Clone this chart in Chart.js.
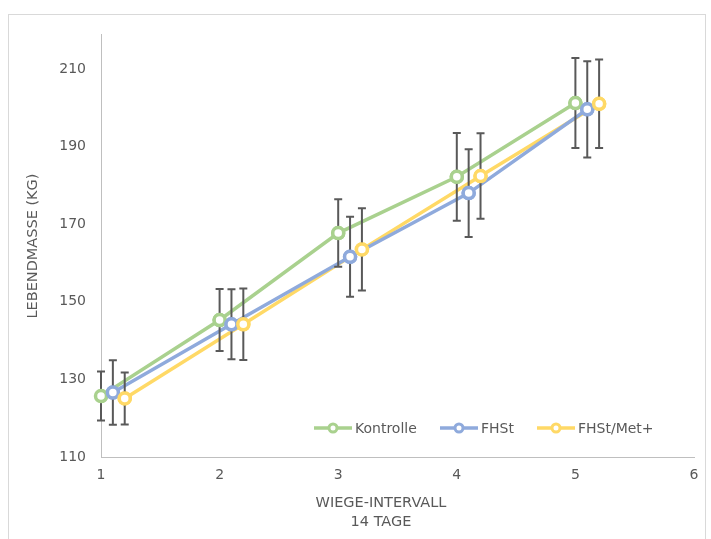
<!DOCTYPE html>
<html>
<head>
<meta charset="utf-8">
<script src="https://cdn.jsdelivr.net/npm/chart.js@4/dist/chart.umd.min.js"></script>
<style>
  html, body { margin: 0; padding: 0; background: #fff; }
  #frame { position: absolute; left: 8px; top: 14px; width: 696px; height: 540px; border: 1px solid #d9d9d9; }
  #wrap { position: absolute; left: 0; top: 0; width: 711px; height: 539px; }
</style>
</head>
<body>
<div id="frame"></div>
<div id="wrap"><canvas id="chart"></canvas></div>
<script>
// data
const intervals = [1, 2, 3, 4, 5];
const xTicks = [1, 2, 3, 4, 5, 6];
const yTicks = [110, 130, 150, 170, 190, 210];
const seriesNames = ['Kontrolle', 'FHSt', 'FHSt/Met+'];
const xShift = [0, 0.1, 0.2];
const kontrolle = [125.7, 145.3, 167.7, 182.2, 201.2];
const kontrolleErr = [6.3, 8, 8.7, 11.3, 11.6];
const fhst = [126.6, 144.2, 161.6, 178, 199.6];
const fhstErr = [8.3, 9, 10.3, 11.3, 12.4];
const fhstMet = [125.1, 144.2, 163.5, 182.4, 201];
const fhstMetErr = [6.7, 9.2, 10.6, 11, 11.4];
const xTitle = ['WIEGE-INTERVALL', '14 TAGE'];
const yTitle = 'LEBENDMASSE (KG)';

const colors = ['#A9D18E', '#8FAADC', '#FFD966'];
const textColor = '#595959';
const font = '"DejaVu Sans", sans-serif';

const values = [kontrolle, fhst, fhstMet];
const errors = [kontrolleErr, fhstErr, fhstMetErr];

const datasets = values.map((vals, s) => ({
  label: seriesNames[s],
  data: intervals.map((x, i) => ({ x: x + xShift[s], y: vals[i] })),
  borderColor: colors[s],
  backgroundColor: '#ffffff',
  borderWidth: 3.5,
  pointRadius: 5.5,
  pointBorderWidth: 3.5,
  pointBackgroundColor: '#ffffff',
  pointBorderColor: colors[s],
  showLine: true,
  tension: 0
}));

// error bars sit over the lines but under the markers
const errorBars = {
  id: 'errorBars',
  afterDatasetsDraw(chart) {
    const ctx = chart.ctx;
    const xs = chart.scales.x, ys = chart.scales.y;
    ctx.save();
    ctx.strokeStyle = textColor;
    ctx.lineWidth = 2;
    values.forEach((vals, s) => {
      vals.forEach((v, i) => {
        const px = xs.getPixelForValue(intervals[i] + xShift[s]);
        const top = ys.getPixelForValue(v + errors[s][i]);
        const bot = ys.getPixelForValue(v - errors[s][i]);
        ctx.beginPath();
        ctx.moveTo(px, top); ctx.lineTo(px, bot);
        ctx.moveTo(px - 4, top); ctx.lineTo(px + 4, top);
        ctx.moveTo(px - 4, bot); ctx.lineTo(px + 4, bot);
        ctx.stroke();
      });
    });
    ctx.restore();
    values.forEach((vals, s) => {
      chart.getDatasetMeta(s).data.forEach(p => p.draw(ctx, chart.chartArea));
    });
  }
};

// legend with line + circle, and the axis titles
const extras = {
  id: 'extras',
  afterDraw(chart) {
    const ctx = chart.ctx;
    ctx.save();
    ctx.font = '14px ' + font;
    ctx.fillStyle = textColor;
    ctx.textBaseline = 'middle';
    const legendX = [314, 440, 537];
    const ly = 428;
    seriesNames.forEach((name, s) => {
      const x = legendX[s];
      ctx.strokeStyle = colors[s];
      ctx.lineWidth = 3.5;
      ctx.beginPath();
      ctx.moveTo(x, ly); ctx.lineTo(x + 38, ly);
      ctx.stroke();
      ctx.beginPath();
      ctx.arc(x + 19, ly, 4, 0, Math.PI * 2);
      ctx.fillStyle = '#ffffff';
      ctx.fill();
      ctx.lineWidth = 3;
      ctx.stroke();
      ctx.fillStyle = textColor;
      ctx.textAlign = 'left';
      ctx.fillText(name, x + 41, ly + 1);
    });

    ctx.font = '14.5px ' + font;
    ctx.textAlign = 'center';
    ctx.fillText(xTitle[0], 381, 503);
    ctx.fillText(xTitle[1], 381, 522);

    ctx.translate(33, 246);
    ctx.rotate(-Math.PI / 2);
    ctx.fillText(yTitle, 0, 0);
    ctx.restore();
  }
};

new Chart(document.getElementById('chart'), {
  type: 'scatter',
  data: { datasets },
  options: {
    responsive: true,
    maintainAspectRatio: false,
    animation: false,
    layout: { padding: { top: 34, right: 17, left: 0, bottom: 0 } },
    plugins: { legend: { display: false }, tooltip: { enabled: false } },
    scales: {
      x: {
        type: 'linear',
        min: 1,
        max: 6,
        grid: { display: false, drawTicks: false },
        border: { display: true, color: '#BFBFBF', width: 1 },
        ticks: { color: textColor, font: { family: font, size: 14 }, padding: 10 },
        afterBuildTicks: s => { s.ticks = xTicks.map(v => ({ value: v })); },
        afterFit: s => { s.height = 82; }
      },
      y: {
        type: 'linear',
        min: 110,
        max: 219,
        grid: { display: false, drawTicks: false },
        border: { display: true, color: '#BFBFBF', width: 1 },
        ticks: { color: textColor, font: { family: font, size: 14 }, padding: 15 },
        afterBuildTicks: s => { s.ticks = yTicks.map(v => ({ value: v })); },
        afterFit: s => { s.width = 101; }
      }
    }
  },
  plugins: [errorBars, extras]
});
</script>
</body>
</html>
